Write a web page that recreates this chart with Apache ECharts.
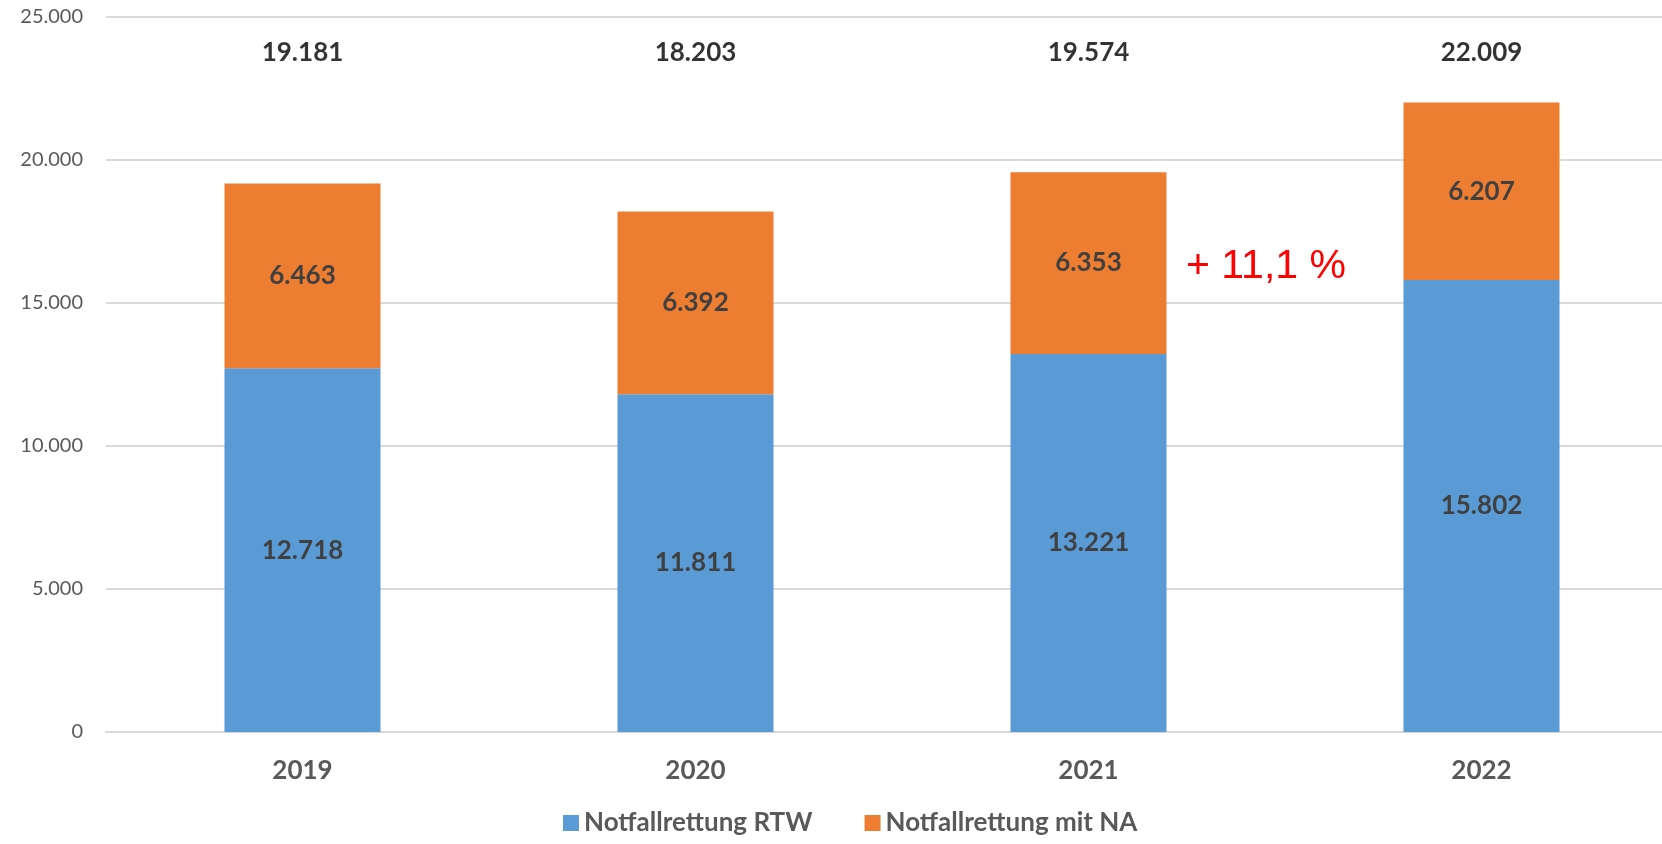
<!DOCTYPE html>
<html>
<head>
<meta charset="utf-8">
<script src="https://cdn.jsdelivr.net/npm/echarts@6/dist/echarts.min.js"></script>
<style>
  html, body { margin: 0; padding: 0; background: #fff; overflow: hidden; }
  #chart { width: 1662px; height: 844px; }
</style>
</head>
<body>
<div id="chart"></div>
<script>
// Daten
var jahre = ['2019', '2020', '2021', '2022'];
var rtw = [12718, 11811, 13221, 15802];
var mitNA = [6463, 6392, 6353, 6207];
var gesamt = [19181, 18203, 19574, 22009];
var gesamtLabelHoehe = 23750; // Höhe, auf der die Summen stehen
var zuwachs = '+ 11,1 %';

// Zahlen im deutschen Format (Tausenderpunkt)
function fmt(v) {
    return String(v).replace(/\B(?=(\d{3})+(?!\d))/g, '.');
}

var chart = echarts.init(document.getElementById('chart'));

var option = {
    animation: false,
    textStyle: { fontFamily: 'Lato' },
    // Raster ragt rechts etwas über den Rand hinaus (wie im Original abgeschnitten)
    grid: { left: 106, width: 1572, top: 17, bottom: 112, outerBoundsMode: 'none' },
    legend: {
        data: ['Notfallrettung RTW', 'Notfallrettung mit NA'],
        bottom: 3,
        left: 558,
        itemWidth: 16,
        itemHeight: 16,
        itemGap: 52,
        icon: 'rect',
        textStyle: { fontSize: 26, color: '#595959', fontWeight: 'bold', fontFamily: 'Lato' }
    },
    xAxis: {
        type: 'category',
        data: jahre,
        axisLine: { lineStyle: { color: '#d9d9d9', width: 2 } },
        axisTick: { show: false },
        axisLabel: { fontSize: 26, fontWeight: 'bold', color: '#595959', margin: 26 }
    },
    yAxis: {
        type: 'value',
        min: 0,
        max: 25000,
        interval: 5000,
        axisLine: { show: false },
        axisTick: { show: false },
        splitLine: { lineStyle: { color: '#d9d9d9', width: 2 } },
        axisLabel: {
            fontSize: 20,
            color: '#595959',
            margin: 23,
            formatter: function (v) { return fmt(v); }
        }
    },
    series: [
        {
            name: 'Notfallrettung RTW',
            type: 'bar',
            stack: 'summe',
            barWidth: '39.7%',
            data: rtw,
            itemStyle: { color: '#5b9bd5' },
            label: {
                show: true,
                position: 'inside',
                fontSize: 26,
                fontWeight: 'bold',
                color: '#404040',
                formatter: function (p) { return fmt(p.value); }
            }
        },
        {
            name: 'Notfallrettung mit NA',
            type: 'bar',
            stack: 'summe',
            data: mitNA,
            itemStyle: { color: '#ed7d31' },
            label: {
                show: true,
                position: 'inside',
                fontSize: 26,
                fontWeight: 'bold',
                color: '#404040',
                formatter: function (p) { return fmt(p.value); }
            }
        },
        {
            // Summen oberhalb der Säulen
            name: 'Gesamt',
            type: 'scatter',
            symbolSize: 0,
            data: gesamt.map(function () { return gesamtLabelHoehe; }),
            silent: true,
            label: {
                show: true,
                position: 'inside',
                fontSize: 26,
                fontWeight: 'bold',
                color: '#000',
                formatter: function (p) { return fmt(gesamt[p.dataIndex]); }
            }
        }
    ],
    graphic: [
        {
            type: 'text',
            left: 1186,
            top: 246,
            style: {
                text: zuwachs,
                fill: '#ff0000',
                font: '41px "Liberation Sans", Arial, sans-serif'
            }
        }
    ]
};

chart.setOption(option);
</script>
</body>
</html>
